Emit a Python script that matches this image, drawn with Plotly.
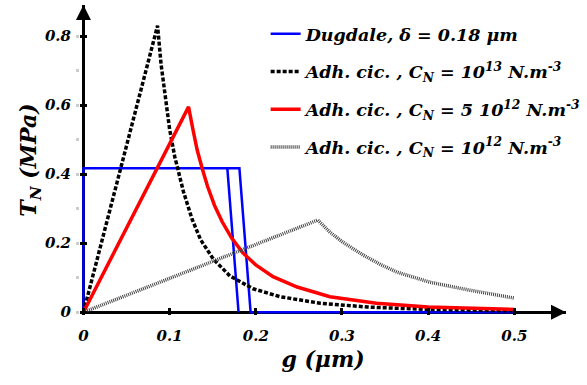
import plotly.graph_objects as go

# Dugdale law (two drawn rectangles, separated by None)
dug_g = [0, 0, 0.181, 0.194, 0.5, None, 0.167, 0.180]
dug_t = [0, 0.417, 0.417, 0, 0, None, 0.417, 0]

# adhesion cohesive law, C_N = 1e13
c13_g = [0, 0.086, 0.090, 0.095, 0.100, 0.106, 0.116, 0.126, 0.136, 0.151, 0.170, 0.197, 0.228, 0.275, 0.33, 0.40, 0.50]
c13_t = [0, 0.83, 0.72, 0.62, 0.53, 0.45, 0.35, 0.27, 0.21, 0.153, 0.105, 0.068, 0.045, 0.026, 0.015, 0.008, 0.004]

# C_N = 5e12
c5_g = [0, 0.122, 0.127, 0.132, 0.138, 0.144, 0.152, 0.161, 0.172, 0.185, 0.2, 0.22, 0.248, 0.286, 0.34, 0.40, 0.50]
c5_t = [0, 0.595, 0.53, 0.47, 0.415, 0.365, 0.31, 0.262, 0.215, 0.172, 0.137, 0.103, 0.073, 0.045, 0.026, 0.015, 0.008]

# C_N = 1e12
c12_g = [0, 0.272, 0.286, 0.301, 0.325, 0.345, 0.364, 0.402, 0.448, 0.50]
c12_t = [0, 0.267, 0.232, 0.203, 0.165, 0.138, 0.116, 0.087, 0.064, 0.041]

x_ticks = [0, 0.1, 0.2, 0.3, 0.4, 0.5]
y_ticks = [0, 0.2, 0.4, 0.6, 0.8]

FONT = "DejaVu Serif"

fig = go.Figure()
fig.add_trace(go.Scatter(
    x=dug_g, y=dug_t, mode="lines", connectgaps=False, legendgroup="a",
    line=dict(color="#0000ff", width=2.5),
    name="Dugdale, δ = 0.18 μm",
))
fig.add_trace(go.Scatter(
    x=c13_g, y=c13_t, mode="lines", legendgroup="b",
    line=dict(color="black", width=3.5, dash="4px,2px"),
    name="Adh. cic. , C<sub>N</sub> = 10<sup>13</sup> N.m<sup>-3</sup>",
))
fig.add_trace(go.Scatter(
    x=c5_g, y=c5_t, mode="lines", legendgroup="c",
    line=dict(color="#ff0000", width=3.5),
    name="Adh. cic. , C<sub>N</sub> = 5 10<sup>12</sup> N.m<sup>-3</sup>",
))
fig.add_trace(go.Scatter(
    x=c12_g, y=c12_t, mode="lines", legendgroup="d",
    line=dict(color="#444444", width=3.5, dash="1px,1px"),
    name="Adh. cic. , C<sub>N</sub> = 10<sup>12</sup> N.m<sup>-3</sup>",
))

tick_font = dict(family=FONT, size=15, color="black", weight="bold", style="italic")
title_font = dict(family=FONT, size=22, color="black", weight="bold", style="italic")

fig.update_xaxes(
    range=[-0.004, 0.56], tickvals=x_ticks, ticktext=["0", "0.1", "0.2", "0.3", "0.4", "0.5"],
    showgrid=False, showline=False, zeroline=True, zerolinecolor="black", zerolinewidth=2.5,
    ticks="inside", ticklen=7, tickwidth=2.5, tickcolor="black", automargin=False,
    ticklabelstandoff=10,
    tickfont=tick_font, title=dict(text="g (μm)", font=title_font, standoff=7),
)
fig.update_yaxes(
    range=[-0.008, 0.89], tickvals=y_ticks, ticktext=["0", "0.2", "0.4", "0.6", "0.8"],
    showgrid=False, showline=False, zeroline=True, zerolinecolor="black", zerolinewidth=2.5,
    ticks="inside", ticklen=7, tickwidth=2.5, tickcolor="black", automargin=False,
    ticklabelstandoff=8,
    minor=dict(dtick=0.1, ticks="outside", ticklen=3, tickcolor="#cccccc"),
    tickfont=tick_font, title=dict(text="T<sub>N</sub> (MPa)", font=title_font, standoff=0),
)

# arrow heads on the axes
fig.add_annotation(x=0.56, y=0, ax=0.5, ay=0, xref="x", yref="y", axref="x", ayref="y",
                   text="", showarrow=True, arrowhead=2, arrowsize=1.2, arrowwidth=2.5,
                   arrowcolor="black")
fig.add_annotation(x=0, y=0.89, ax=0, ay=0.8, xref="x", yref="y", axref="x", ayref="y",
                   text="", showarrow=True, arrowhead=2, arrowsize=1.2, arrowwidth=2.5,
                   arrowcolor="black")

fig.update_layout(
    width=587, height=385,
    margin=dict(l=80, r=21, t=5, b=70, autoexpand=False),
    plot_bgcolor="white", paper_bgcolor="white",
    font=dict(family=FONT, color="black"),
    legend=dict(
        x=0.382, y=0.965, xanchor="left", yanchor="top",
        bgcolor="rgba(0,0,0,0)",
        font=dict(family=FONT, size=17.5, color="black", weight="bold", style="italic"),
        tracegroupgap=12,
    ),
)

# the page's default body margin would shift the figure by 8px
fig.write_html("out.html", config={"displayModeBar": False},
               post_script="document.body.style.margin = '0';")
